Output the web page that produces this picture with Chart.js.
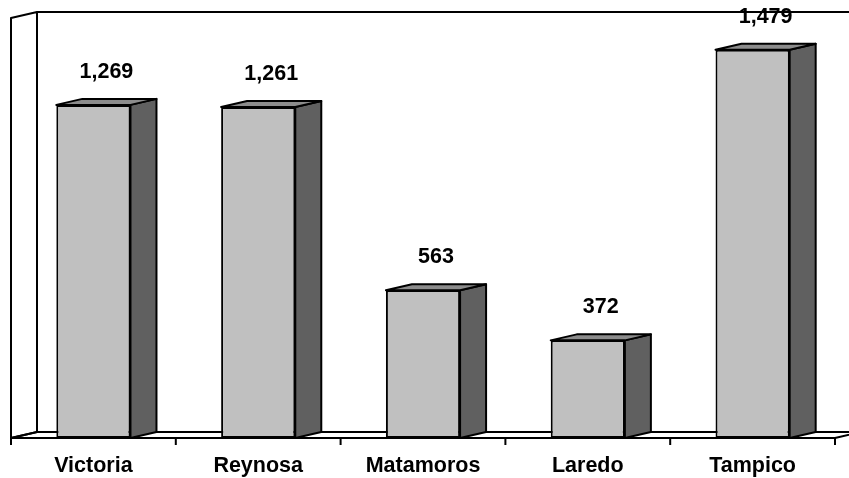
<!DOCTYPE html>
<html lang="es">
<head>
<meta charset="UTF-8">
<title>Tamaulipas</title>
<script src="https://cdn.jsdelivr.net/npm/chart.js"></script>
<style>
  html, body { margin: 0; padding: 0; background: #fff; }
  #wrap { width: 849px; height: 478px; }
</style>
</head>
<body>
<div id="wrap"><canvas id="chart" width="849" height="478"></canvas></div>
<script>
// data
const cities = ['Victoria', 'Reynosa', 'Matamoros', 'Laredo', 'Tampico'];
const totals = [1269, 1261, 563, 372, 1479];
const axisMax = 1600;

// 3D depth offset (px)
const DX = 26, DY = -6;
const labelFont = 'bold 21.5px "Liberation Sans", Arial, sans-serif';

const fmt = v => v.toLocaleString('en-US');

const box3d = {
  id: 'box3d',
  beforeDatasetsDraw(chart) {
    const c = chart.ctx, a = chart.chartArea;
    c.save();
    c.strokeStyle = '#000';
    c.lineWidth = 2;
    c.lineJoin = 'round';
    // left wall
    c.beginPath();
    c.moveTo(a.left, a.bottom);
    c.lineTo(a.left, a.top);
    c.lineTo(a.left + DX, a.top + DY);
    c.lineTo(a.left + DX, a.bottom + DY);
    c.closePath();
    c.stroke();
    // back wall top edge
    c.beginPath();
    c.moveTo(a.left + DX, a.top + DY);
    c.lineTo(a.right + DX, a.top + DY);
    c.stroke();
    // floor
    c.beginPath();
    c.moveTo(a.left, a.bottom);
    c.lineTo(a.right, a.bottom);
    c.lineTo(a.right + DX, a.bottom + DY);
    c.lineTo(a.left + DX, a.bottom + DY);
    c.closePath();
    c.stroke();
    // ticks at category edges
    const x = chart.scales.x;
    const step = x.getPixelForValue(1) - x.getPixelForValue(0);
    c.beginPath();
    for (let i = 0; i <= cities.length; i++) {
      const px = x.getPixelForValue(0) - step / 2 + i * step;
      c.moveTo(px, a.bottom);
      c.lineTo(px, a.bottom + 7);
    }
    c.stroke();
    c.restore();
  },
  afterDatasetsDraw(chart) {
    const c = chart.ctx, a = chart.chartArea;
    const meta = chart.getDatasetMeta(0);
    c.save();
    c.strokeStyle = '#000';
    c.lineWidth = 2;
    c.lineJoin = 'round';
    meta.data.forEach((bar, i) => {
      const w = bar.width;
      const l = bar.x - w / 2, r = bar.x + w / 2;
      const t = bar.y, b = bar.base;
      // side face
      c.fillStyle = '#606060';
      c.beginPath();
      c.moveTo(r, b);
      c.lineTo(r, t);
      c.lineTo(r + DX, t + DY);
      c.lineTo(r + DX, b + DY);
      c.closePath();
      c.fill();
      c.stroke();
      // top face
      c.fillStyle = '#8c8c8c';
      c.beginPath();
      c.moveTo(l, t);
      c.lineTo(l + DX, t + DY);
      c.lineTo(r + DX, t + DY);
      c.lineTo(r, t);
      c.closePath();
      c.fill();
      c.stroke();
      // value label
      c.fillStyle = '#000';
      c.font = labelFont;
      c.textAlign = 'center';
      c.textBaseline = 'middle';
      c.fillText(fmt(totals[i]), bar.x + DX / 2, t - 33);
    });
    // category labels
    const x = chart.scales.x;
    c.font = labelFont;
    c.textAlign = 'center';
    c.textBaseline = 'middle';
    c.fillStyle = '#000';
    cities.forEach((name, i) => {
      c.fillText(name, x.getPixelForValue(i), a.bottom + 28);
    });
    c.restore();
  }
};

new Chart(document.getElementById('chart'), {
  type: 'bar',
  data: {
    labels: cities,
    datasets: [{
      data: totals,
      backgroundColor: '#c0c0c0',
      borderColor: '#000',
      borderWidth: 2,
      borderSkipped: false,
      categoryPercentage: 1,
      barPercentage: 0.45
    }]
  },
  options: {
    responsive: false,
    animation: false,
    layout: { padding: { left: 11, right: 14, top: 18, bottom: 40 } },
    plugins: { legend: { display: false }, tooltip: { enabled: false } },
    scales: {
      x: { display: false },
      y: { display: false, min: 0, max: axisMax }
    }
  },
  plugins: [box3d]
});
</script>
</body>
</html>
